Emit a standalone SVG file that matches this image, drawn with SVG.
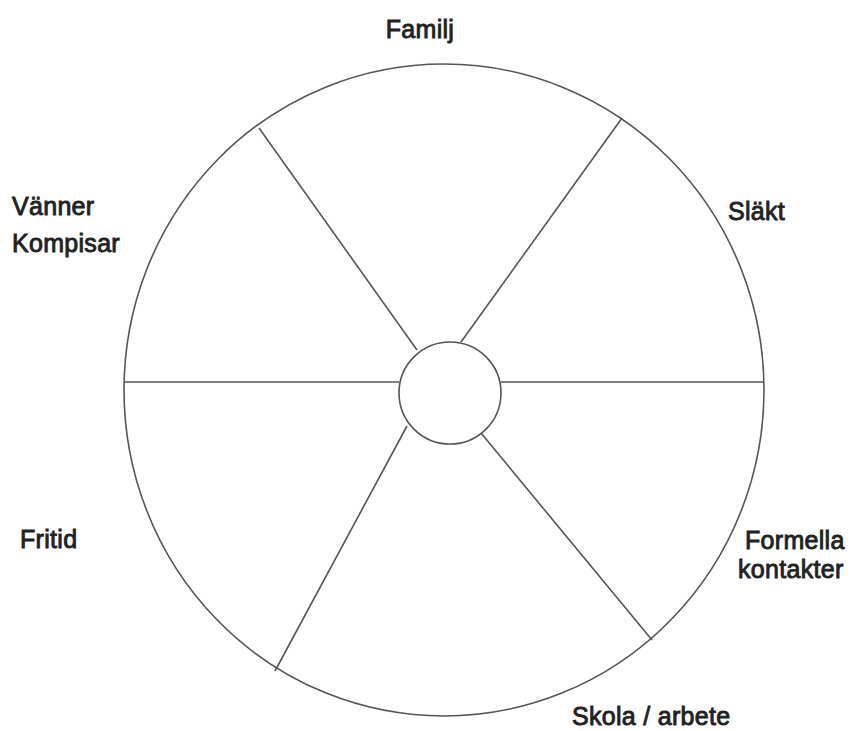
<svg xmlns="http://www.w3.org/2000/svg" width="852" height="731" viewBox="0 0 852 731">
<style>
.ln{fill:none;stroke:#555;stroke-width:1.6}
.t{font-family:"Liberation Sans",Arial,sans-serif;font-size:25px;fill:#222;stroke:#222;stroke-width:0.9;letter-spacing:0.3px}
</style>
<rect width="852" height="731" fill="#fff"/>
<g id="wheel">
<ellipse class="ln" cx="444" cy="390" rx="320" ry="326"/>
</g>
<g id="connectors">
<line class="ln" x1="124" y1="382" x2="399" y2="382"/>
<line class="ln" x1="501" y1="382" x2="764" y2="382"/>
<line class="ln" x1="259" y1="128" x2="417" y2="350"/>
<line class="ln" x1="622" y1="118" x2="461" y2="342"/>
<line class="ln" x1="275" y1="671" x2="407" y2="426"/>
<line class="ln" x1="652" y1="640" x2="481" y2="433"/>
</g>
<g id="center">
<circle class="ln" cx="450" cy="393" r="51" fill="#fff"/>
</g>
<g id="familj"><text class="t" x="420" y="38" text-anchor="middle">Familj</text></g>
<g id="slakt"><text class="t" x="728" y="220">Släkt</text></g>
<g id="vanner"><text class="t" x="12" y="215">Vänner</text><text class="t" x="12" y="252">Kompisar</text></g>
<g id="fritid"><text class="t" x="20" y="548">Fritid</text></g>
<g id="formella"><text class="t" x="745" y="549">Formella</text><text class="t" x="738" y="578">kontakter</text></g>
<g id="skola"><text class="t" x="572" y="725">Skola / arbete</text></g>
</svg>
